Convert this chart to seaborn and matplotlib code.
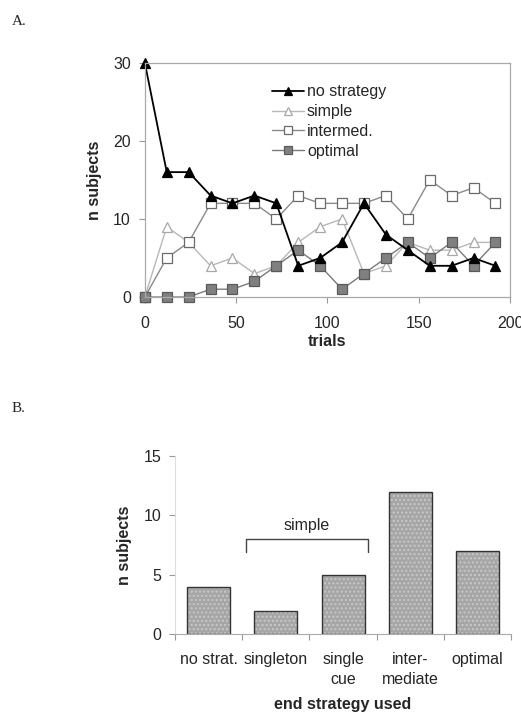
import numpy as np
import pandas as pd
import matplotlib
matplotlib.use("Agg")
import matplotlib.pyplot as plt
import seaborn as sns

# ---------------- data ----------------
trials = [0, 12, 24, 36, 48, 60, 72, 84, 96, 108, 120, 132, 144, 156, 168, 180, 192]
no_strategy = [30, 16, 16, 13, 12, 13, 12, 4, 5, 7, 12, 8, 6, 4, 4, 5, 4]
simple = [0, 9, 7, 4, 5, 3, 4, 7, 9, 10, 3, 4, 7, 6, 6, 7, 7]
intermed = [0, 5, 7, 12, 12, 12, 10, 13, 12, 12, 12, 13, 10, 15, 13, 14, 12]
optimal = [0, 0, 0, 1, 1, 2, 4, 6, 4, 1, 3, 5, 7, 5, 7, 4, 7]

series_names = ["no strategy", "simple", "intermed.", "optimal"]

end_categories = ["no strat.", "singleton", "single\ncue", "inter-\nmediate", "optimal"]
end_counts = [4, 2, 5, 12, 7]

bracket_label = "simple"
bracket_span = (0.56, 2.37)   # category coordinates
bracket_levels = (6.9, 8.0)   # bottom of ends, top line

# ---------------- style ----------------
sns.set_style("white")
plt.rcParams["font.family"] = ["Liberation Sans", "DejaVu Sans"]

FS = 11.5

fig = plt.figure(figsize=(5.21, 7.14), dpi=100)

# ---------------- panel A ----------------
axA = fig.add_axes([0.278, 0.584, 0.701, 0.328])

styles = {
    "no strategy": dict(color="black", marker="^", mfc="black", mec="black", ms=7.5, lw=1.3),
    "simple": dict(color="#b8b8b8", marker="^", mfc="white", mec="#a8a8a8", ms=7.5, lw=1.0),
    "intermed.": dict(color="#8a8a8a", marker="s", mfc="white", mec="#6a6a6a", ms=7, lw=1.0),
    "optimal": dict(color="#7a7a7a", marker="s", mfc="#808080", mec="#5a5a5a", ms=7, lw=1.0),
}
values = {"no strategy": no_strategy, "simple": simple, "intermed.": intermed, "optimal": optimal}
order_draw = ["simple", "intermed.", "optimal", "no strategy"]
for name in order_draw:
    st = styles[name]
    df = pd.DataFrame({"trials": trials, "n": values[name]})
    sns.lineplot(data=df, x="trials", y="n", ax=axA, color=st["color"], lw=st["lw"],
                 marker=st["marker"], markerfacecolor=st["mfc"], markeredgecolor=st["mec"],
                 markeredgewidth=0.9, markersize=st["ms"], clip_on=False, label=name)

axA.set_xlim(0, 200)
axA.set_ylim(0, 30)
axA.set_xticks([0, 50, 100, 150, 200])
axA.set_yticks([0, 10, 20, 30])
axA.tick_params(axis="both", labelsize=FS, length=4, width=0.8, color="#999999",
                direction="out", bottom=True, left=True)
axA.tick_params(axis="x", pad=10)
axA.tick_params(axis="y", pad=6)
for sp in axA.spines.values():
    sp.set_color("#aaaaaa")
    sp.set_linewidth(0.9)
axA.set_xlabel("trials", fontsize=FS, fontweight="bold", labelpad=2)
axA.set_ylabel("n subjects", fontsize=FS, fontweight="bold", labelpad=8)

handles, labels = axA.get_legend_handles_labels()
hmap = dict(zip(labels, handles))
axA.legend([hmap[n] for n in series_names], series_names, loc="upper left",
           bbox_to_anchor=(0.33, 0.935), frameon=False, fontsize=FS,
           handlelength=2.0, handletextpad=0.2, labelspacing=0.3, borderaxespad=0,
           markerscale=0.75)

fig.text(0.023, 0.965, "A.", fontsize=11, family=["Liberation Serif", "DejaVu Serif"])
fig.text(0.023, 0.423, "B.", fontsize=11, family=["Liberation Serif", "DejaVu Serif"])

# ---------------- panel B ----------------
axB = fig.add_axes([0.336, 0.1116, 0.645, 0.2497])
dfb = pd.DataFrame({"strategy": end_categories, "n": end_counts})
sns.barplot(data=dfb, x="strategy", y="n", ax=axB, color="#a6a6a6", width=0.64,
            edgecolor="#333333", linewidth=1.0, saturation=1)
for p in axB.patches:
    p.set_hatch("....")
    p._hatch_color = matplotlib.colors.to_rgba("#c8c8c8")

axB.set_xlim(-0.5, len(end_categories) - 0.5)
axB.set_ylim(0, 15)
axB.set_yticks([0, 5, 10, 15])
axB.set_xticks(range(len(end_categories)))
axB.set_xticklabels(end_categories, fontsize=FS, linespacing=1.4)
axB.set_xticks(np.arange(-0.5, len(end_categories)), minor=True)
axB.tick_params(axis="x", which="major", length=0, pad=13)
axB.tick_params(axis="x", which="minor", length=4, width=0.8, color="#999999", direction="out", bottom=True)
axB.tick_params(axis="y", labelsize=FS, length=4, width=0.8, color="#999999", direction="out", left=True, pad=6)
for side in ["top", "right"]:
    axB.spines[side].set_visible(False)
axB.spines["left"].set_color("#dddddd")
axB.spines["bottom"].set_color("#aaaaaa")
axB.set_xlabel("end strategy used", fontsize=FS, fontweight="bold", labelpad=7)
axB.set_ylabel("n subjects", fontsize=FS, fontweight="bold", labelpad=8)

x0, x1 = bracket_span
ylo, yhi = bracket_levels
axB.plot([x0, x0, x1, x1], [ylo, yhi, yhi, ylo], color="#444444", lw=1.0)
axB.text((x0 + x1) / 2, yhi + 0.55, bracket_label, ha="center", va="bottom", fontsize=FS)

fig.savefig("out.png", dpi=100, facecolor="white")
